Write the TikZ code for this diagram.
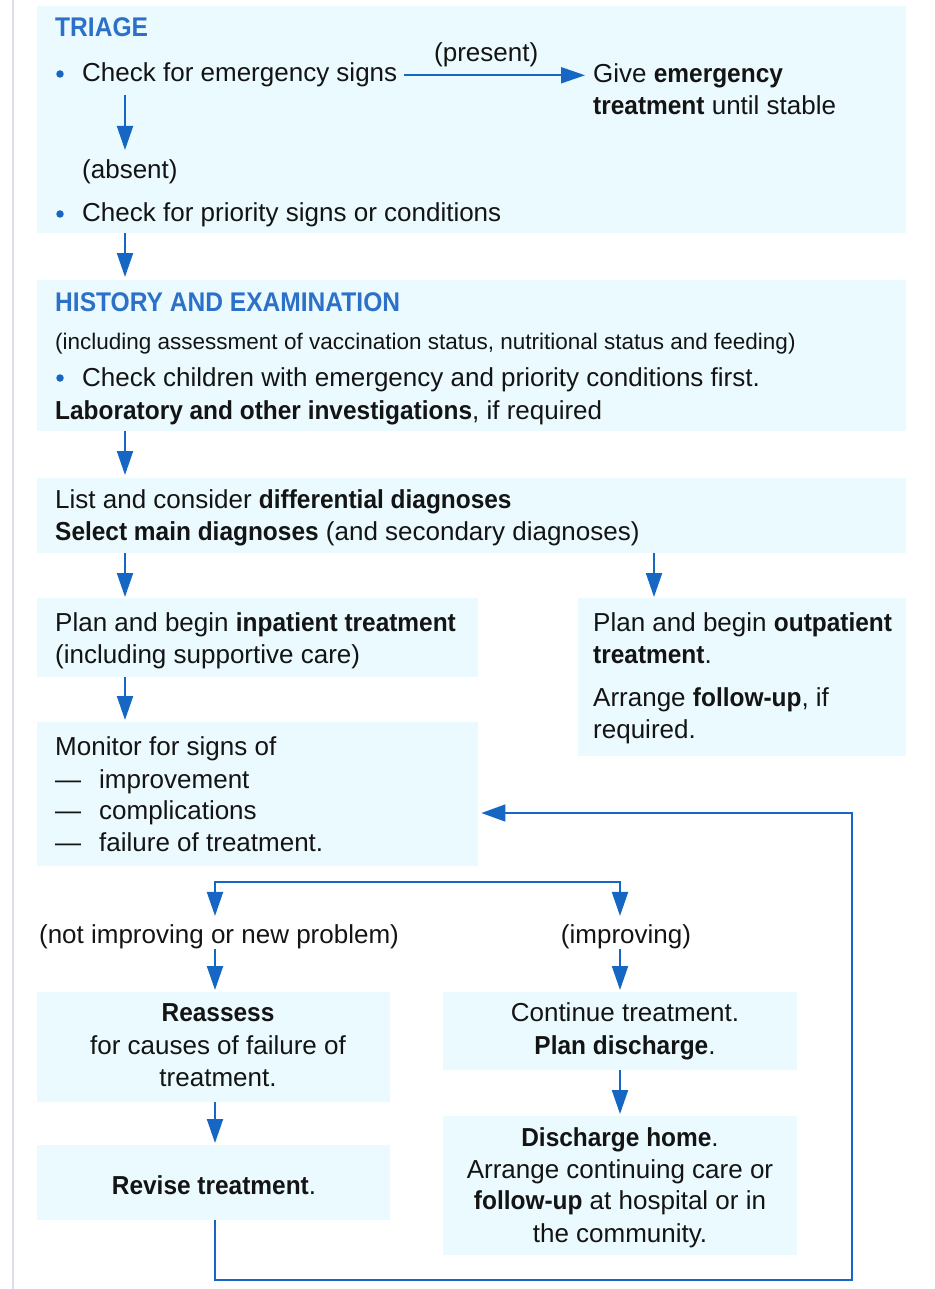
\documentclass[tikz,border=0pt]{standalone}
\usepackage{fontspec}
\setmainfont{Liberation Sans}[BoldFeatures={FakeStretch=0.94}]
\newfontfamily\headfont{Liberation Sans}[FakeStretch=0.91]
\usetikzlibrary{arrows.meta}
\definecolor{boxfill}{RGB}{234,250,254}
\definecolor{arrowblue}{RGB}{22,102,196}
\definecolor{headblue}{RGB}{45,112,200}
\definecolor{ink}{RGB}{20,20,20}
\definecolor{edgegray}{RGB}{222,220,232}
\tikzset{
  box/.style={fill=boxfill, draw=none, inner sep=0pt, anchor=north west},
  txt/.style={inner sep=0pt, anchor=base west, text=ink, font=\fontsize{26}{32}\selectfont},
  ctxt/.style={txt, anchor=base},
  smalltxt/.style={txt, font=\fontsize{22.5}{28}\selectfont},
  headtxt/.style={txt, text=headblue, font=\headfont\bfseries\fontsize{27}{32}\selectfont},
  arr/.style={draw=arrowblue, line width=2pt, -{Triangle[length=24pt,width=16pt]}},
  fb/.style={draw=arrowblue, line width=1.6pt, -{Triangle[length=24pt,width=17pt]}},
  bul/.style={circle, fill=arrowblue, inner sep=0pt, minimum size=7.5pt},
}
\begin{document}
\begin{tikzpicture}[x=1pt,y=-1pt]
\useasboundingbox (0,0) rectangle (934,1289);
\draw[edgegray, line width=2pt] (13,0) -- (13,1289);

% boxes
\node[box, minimum width=869pt, minimum height=227pt] (triage) at (37,6) {};
\node[box, minimum width=869pt, minimum height=151pt] (hist) at (37,280) {};
\node[box, minimum width=869pt, minimum height=75pt] (diag) at (37,478) {};
\node[box, minimum width=441pt, minimum height=79pt] (inpat) at (37,598) {};
\node[box, minimum width=328pt, minimum height=158pt] (outpat) at (578,598) {};
\node[box, minimum width=441pt, minimum height=144pt] (monitor) at (37,722) {};
\node[box, minimum width=353pt, minimum height=110pt] (reassess) at (37,992) {};
\node[box, minimum width=354pt, minimum height=78pt] (cont) at (443,992) {};
\node[box, minimum width=353pt, minimum height=75pt] (revise) at (37,1145) {};
\node[box, minimum width=354pt, minimum height=139pt] (disch) at (443,1116) {};

% triage texts
\node[headtxt] (h1) at (55,37) {TRIAGE};
\node[bul] (b1) at (60,74) {};
\node[txt] (chk1) at (82,82) {Check for emergency signs};
\node[txt] (present) at (434,62) {(present)};
\node[txt] (give1) at (593,83) {Give \textbf{emergency}};
\node[txt] (give2) at (593,115) {\textbf{treatment} until stable};
\node[txt] (absent) at (82,179) {(absent)};
\node[bul] (b2) at (60,214) {};
\node[txt] (chk2) at (82,222) {Check for priority signs or conditions};

% history
\node[headtxt] (h2) at (55,311) {HISTORY AND EXAMINATION};
\node[smalltxt] (incl) at (55,349) {(including assessment of vaccination status, nutritional status and feeding)};
\node[bul] (b3) at (60,378) {};
\node[txt] (chk3) at (82,386) {Check children with emergency and priority conditions first.};
\node[txt] (lab) at (55,419) {\textbf{Laboratory and other investigations}, if required};

% diagnoses
\node[txt] (d1) at (55,508) {List and consider \textbf{differential diagnoses}};
\node[txt] (d2) at (55,540) {\textbf{Select main diagnoses} (and secondary diagnoses)};

% inpatient
\node[txt] (i1) at (55,631) {Plan and begin \textbf{inpatient treatment}};
\node[txt] (i2) at (55,663) {(including supportive care)};

% outpatient
\node[txt] (o1) at (593,631) {Plan and begin \textbf{outpatient}};
\node[txt] (o2) at (593,663) {\textbf{treatment}.};
\node[txt] (o3) at (593,706) {Arrange \textbf{follow-up}, if};
\node[txt] (o4) at (593,738) {required.};

% monitor
\node[txt] (m1) at (55,755) {Monitor for signs of};
\node[txt] (md1) at (55,788) {—};
\node[txt] (m2) at (99,788) {improvement};
\node[txt] (md2) at (55,819) {—};
\node[txt] (m3) at (99,819) {complications};
\node[txt] (md3) at (55,851) {—};
\node[txt] (m4) at (99,851) {failure of treatment.};

% branch labels
\node[ctxt] (lab1) at (219,943) {(not improving or new problem)};
\node[ctxt] (lab2) at (626,943) {(improving)};

% reassess
\node[ctxt] (r1) at (218,1021) {\textbf{Reassess}};
\node[ctxt] (r2) at (218,1054) {for causes of failure of};
\node[ctxt] (r3) at (218,1086) {treatment.};

% continue
\node[ctxt] (c1t) at (625,1021) {Continue treatment.};
\node[ctxt] (c2t) at (625,1054) {\textbf{Plan discharge}.};

% revise
\node[ctxt] (rv) at (214,1194) {\textbf{Revise treatment}.};

% discharge
\node[ctxt] (dh1) at (620,1146) {\textbf{Discharge home}.};
\node[ctxt] (dh2) at (620,1178) {Arrange continuing care or};
\node[ctxt] (dh3) at (620,1209) {\textbf{follow-up} at hospital or in};
\node[ctxt] (dh4) at (620,1242) {the community.};

% coordinates for connector columns
\coordinate (ax) at (125,0);
\coordinate (bx) at (654,0);
\coordinate (px) at (404,0);
\coordinate (s1) at (215,882);
\coordinate (s2) at (620,882);
\coordinate (f1) at (215,1280);
\coordinate (f2) at (852,1280);
\coordinate (f3) at (852,813);

% connectors
\draw[arr] (chk1.east -| px) -- ([xshift=-8pt]give1.west |- chk1.east);
\draw[arr, shorten <=7pt, shorten >=10pt] (chk1.south -| ax) -- (absent.north -| ax);
\draw[arr, shorten >=3pt] (triage.south -| ax) -- (hist.north -| ax);
\draw[arr, shorten >=3pt] (hist.south -| ax) -- (diag.north -| ax);
\draw[arr, shorten >=1pt] (diag.south -| ax) -- (inpat.north -| ax);
\draw[arr, shorten >=1pt] (diag.south -| bx) -- (outpat.north -| bx);
\draw[arr, shorten >=2pt] (inpat.south -| ax) -- (monitor.north -| ax);
\draw[arr, shorten >=8pt] (s2) -- (s1) -- (lab1.north -| s1);
\draw[arr, shorten >=8pt] (s1) -- (s2) -- (lab2.north -| s2);
\draw[arr, shorten >=2pt] (lab1.south -| s1) -- (reassess.north -| s1);
\draw[arr, shorten >=2pt] (lab2.south -| s2) -- (cont.north -| s2);
\draw[arr, shorten >=2pt] (reassess.south -| s1) -- (revise.north -| s1);
\draw[arr, shorten >=2pt] (cont.south -| s2) -- (disch.north -| s2);
\draw[fb] (revise.south -| f1) -- (f1) -- (f2) -- (f3) -- ([xshift=3pt]monitor.east |- f3);
\end{tikzpicture}
\end{document}
